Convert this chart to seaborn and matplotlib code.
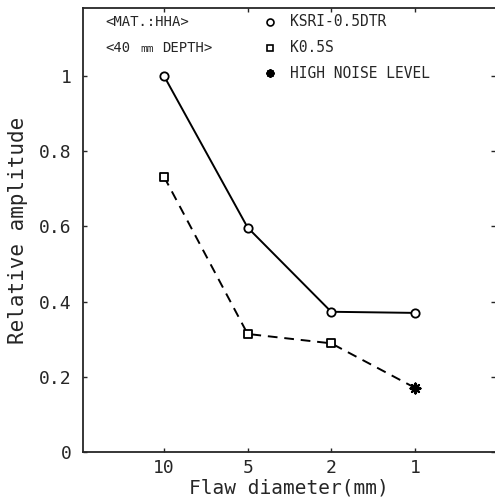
import pandas as pd
import matplotlib
matplotlib.use("Agg")
import matplotlib.pyplot as plt
import seaborn as sns

# values
diameters = ["10", "5", "2", "1"]
ksri = [1.0, 0.597, 0.373, 0.37]
k05s = [0.732, 0.314, 0.289, 0.171]
k05s_noisy = [False, False, False, True]
y_ticks = [0, 0.2, 0.4, 0.6, 0.8, 1]
y_ticklabels = ["0", "0.2", "0.4", "0.6", "0.8", "1"]

sns.set_style("ticks")
plt.rcParams["font.family"] = ["DejaVu Sans Mono", "DejaVu Sans"]

df_a = pd.DataFrame({"dia": diameters, "amp": ksri})
df_b = pd.DataFrame({"dia": diameters, "amp": k05s, "noisy": k05s_noisy})

fig = plt.figure(figsize=(4.95, 4.98), dpi=100)
ax = fig.add_axes([83 / 495, 1 - 452 / 498, 412 / 495, 444 / 498])

# ===== lines =====
sns.lineplot(data=df_a, x="dia", y="amp", ax=ax, color="black", lw=1.4,
             marker="o", markersize=6, markerfacecolor="white",
             markeredgecolor="black", markeredgewidth=1.3, sort=False)
sns.lineplot(data=df_b, x="dia", y="amp", ax=ax, color="black", lw=1.4,
             sort=False, linestyle=(0, (5, 3.5)))
clean = df_b[~df_b["noisy"]]
noisy = df_b[df_b["noisy"]]
sns.scatterplot(data=clean, x="dia", y="amp", ax=ax, marker="s", s=40,
                facecolor="white", edgecolor="black", linewidth=1.3, zorder=3)
sns.scatterplot(data=noisy, x="dia", y="amp", ax=ax, marker=(8, 2, 0), s=50,
                color="black", edgecolor="black", linewidth=1.6, zorder=3)

# ===== axes =====
ax.set_xlim(-0.97, 3.96)
ax.set_ylim(0, 1.181)
ax.set_yticks(y_ticks)
ax.set_yticklabels(y_ticklabels)
ax.tick_params(direction="in", length=3, width=1, top=True, right=True,
               labelsize=13)
ax.tick_params(axis="y", pad=8)
ax.tick_params(axis="x", pad=5)
for s in ["left", "bottom", "top"]:
    ax.spines[s].set_linewidth(1.3)
ax.spines["right"].set_visible(False)
ax.set_xlabel("Flaw diameter(mm)", fontsize=14, labelpad=1)
ax.set_ylabel("Relative amplitude", fontsize=15, labelpad=8)

# ===== annotations / legend =====
def px(x, y):
    return (x - 83) / 412, (452 - y) / 444

ax.text(*px(105, 22), "<MAT.:HHA>", transform=ax.transAxes, fontsize=10, va="center")
ax.text(*px(105, 48), "<40", transform=ax.transAxes, fontsize=10, va="center")
ax.text(*px(140, 49), "mm", transform=ax.transAxes, fontsize=8, va="center")
ax.text(*px(162, 48), "DEPTH>", transform=ax.transAxes, fontsize=10, va="center")

ax.plot(*px(270, 22), transform=ax.transAxes, marker="o", ms=5, mfc="white",
        mec="black", mew=1.2, ls="none")
ax.plot(*px(270, 48), transform=ax.transAxes, marker="s", ms=5, mfc="white",
        mec="black", mew=1.2, ls="none")
ax.plot(*px(270, 73), transform=ax.transAxes, marker=(8, 2, 0), ms=6, mew=1.5,
        color="black", ls="none")
ax.text(*px(290, 22), "KSRI-0.5DTR", transform=ax.transAxes, fontsize=10.5, va="center")
ax.text(*px(290, 48), "K0.5S", transform=ax.transAxes, fontsize=10.5, va="center")
ax.text(*px(290, 73), "HIGH NOISE LEVEL", transform=ax.transAxes, fontsize=10.5, va="center")

fig.savefig("out.png", dpi=100)
